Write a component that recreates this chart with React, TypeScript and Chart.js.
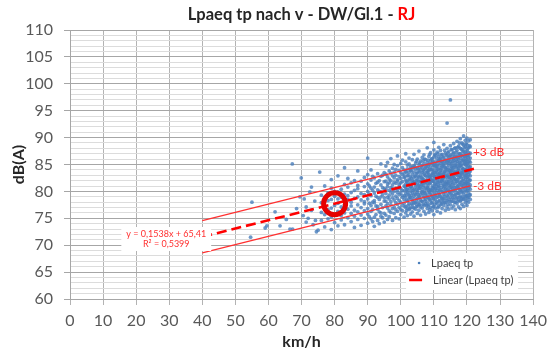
import React, { useEffect, useRef } from "react";
import { Chart, registerables } from "chart.js";

Chart.register(...registerables);

// ---------- texts ----------
const titleMain = "Lpaeq tp nach v - DW/Gl.1 - ";
const titleAccent = "RJ";
const xTitle = "km/h";
const yTitle = "dB(A)";
const seriesName = "Lpaeq tp";
const trendName = "Linear (Lpaeq tp)";
const equationLines = ["y = 0,1538x + 65,41", "R² = 0,5399"];
const upperLabel = "+3 dB";
const lowerLabel = "-3 dB";

// ---------- axes ----------
const xMin = 0;
const xMax = 140;
const xStep = 10;
const yMin = 60;
const yMax = 110;
const yMajorStep = 5;

// ---------- scatter: isolated points (km/h, dB(A)) ----------
const sparseSpeeds = [54.6, 55, 59, 59.5, 62, 63.5, 65.4, 66.5, 67.3, 67.2, 68.5, 69.5, 69.9, 70.5, 70.8, 71.4, 71.4, 72, 72.5, 73, 73, 73.5, 74, 74.2, 74.5, 75, 75.5];
const sparseLevels = [71.5, 78.0, 73.2, 73.6, 76.2, 73.6, 74.8, 73.0, 73.0, 85.1, 76.8, 79.0, 82.5, 75.5, 78.6, 77.1, 74.3, 75.0, 79.9, 76.5, 80.8, 73.8, 78.2, 74.6, 72.5, 72.8, 83.6];

// ---------- scatter: dense part, levels per speed ----------
const columnSpeeds = [
  76, 77, 78, 79, 80, 81, 82, 83, 84, 85, 86, 87, 88, 89, 90,
  90.5, 91, 91.5, 92, 92.5, 93, 93.5, 94, 94.5, 95,
  95.5, 96, 96.5, 97, 97.5, 98, 98.5, 99, 99.5, 100,
  100.5, 101, 101.5, 102, 102.5, 103, 103.5, 104, 104.5, 105,
  105.5, 106, 106.5, 107, 107.5, 108, 108.5, 109, 109.5, 110,
  110.5, 111, 111.5, 112, 112.5, 113, 113.5, 114, 114.5, 115,
  115.5, 116, 116.5, 117, 117.5, 118, 118.5, 119, 119.5, 120,
  120.5, 121,
];
const columnLevels = [
  [74.6, 76.1, 77.9, 79.3],
  [73.4, 75.7, 77.2, 78.8, 81.0],
  [74.9, 76.6, 78.3, 79.7],
  [72.9, 75.3, 76.9, 78.5, 80.6, 82.2],
  [74.2, 75.8, 77.4, 79.1, 80.0],
  [73.6, 76.3, 77.8, 78.6, 79.9, 82.9],
  [74.7, 75.5, 77.1, 78.9, 80.4],
  [73.8, 76.0, 77.6, 78.2, 79.5, 81.3, 84.4],
  [75.1, 76.7, 78.5, 79.2, 80.8, 82.4],
  [74.4, 75.9, 77.3, 78.0, 79.8, 81.6],
  [73.3, 75.4, 76.5, 78.7, 80.2, 82.0],
  [74.8, 76.2, 77.5, 79.0, 80.5, 81.1, 83.8],
  [73.7, 75.6, 77.0, 78.4, 79.6, 81.9],
  [75.0, 76.4, 77.7, 78.1, 79.4, 80.9, 82.6],
  [74.1, 75.8, 76.8, 78.6, 80.0, 81.4, 83.1, 86.2],
  [75.3, 77.8, 79.5, 81.0],
  [74.9, 76.3, 77.4, 79.2, 80.6, 82.1, 84.0],
  [74.4, 76.6, 78.0, 80.2, 82.8],
  [73.5, 75.2, 77.9, 78.3, 79.7, 80.8, 82.5],
  [75.7, 77.3, 79.1, 81.5],
  [74.6, 76.7, 77.2, 78.9, 80.3, 81.7, 83.3],
  [74.0, 76.2, 78.5, 80.0, 82.0],
  [75.4, 76.0, 77.6, 79.0, 79.9, 81.2, 82.8, 85.1],
  [75.1, 77.0, 79.4, 80.7, 83.0],
  [74.3, 75.9, 78.2, 78.8, 80.5, 81.8, 83.5],
  [75.6, 77.3, 78.2, 79.6, 80.4, 81.9, 83.2, 84.7],
  [74.8, 76.9, 77.7, 78.9, 80.9, 81.4, 82.7, 85.4],
  [75.3, 76.4, 78.6, 79.3, 80.2, 81.6, 82.3, 83.8],
  [76.1, 77.5, 78.1, 79.9, 80.7, 82.0, 83.4, 86.1],
  [74.6, 76.8, 78.8, 79.5, 80.5, 81.2, 82.9, 84.3],
  [75.9, 77.1, 78.4, 80.0, 81.7, 82.5, 83.6, 85.0],
  [75.1, 76.6, 77.9, 79.1, 80.6, 81.5, 83.0, 84.1],
  [76.3, 77.6, 78.7, 79.8, 80.3, 81.9, 82.2, 84.8, 86.6],
  [74.9, 77.0, 78.3, 79.4, 80.8, 81.3, 82.8, 83.9],
  [75.7, 76.7, 78.0, 79.7, 80.5, 81.6, 82.4, 83.5, 85.2],
  [76.4, 77.4, 78.9, 79.2, 80.2, 81.8, 83.1, 84.4, 85.8],
  [75.2, 77.8, 78.5, 80.1, 81.0, 82.6, 83.3, 84.0],
  [76.0, 77.2, 79.0, 79.6, 80.7, 81.4, 82.1, 83.7, 85.5, 87.0],
  [75.5, 76.8, 78.2, 79.9, 80.4, 81.7, 82.9, 84.2, 84.9],
  [76.6, 77.7, 78.6, 79.3, 81.1, 82.3, 83.5, 85.1, 86.2],
  [75.8, 77.0, 78.8, 80.0, 80.9, 81.5, 82.7, 83.9, 84.6],
  [76.2, 77.5, 78.3, 79.7, 80.6, 82.0, 83.2, 84.5, 85.9],
  [75.4, 76.9, 78.0, 79.1, 80.3, 81.8, 82.5, 83.6, 84.8, 86.9],
  [76.7, 77.9, 79.4, 80.8, 81.3, 82.8, 84.1, 85.3],
  [75.9, 77.3, 78.7, 79.8, 80.1, 81.6, 82.2, 83.4, 84.4, 86.0],
  [76.5, 77.6, 79.1, 80.5, 81.2, 82.6, 83.8, 85.0, 87.5],
  [75.6, 77.1, 78.4, 79.5, 80.9, 81.9, 83.0, 84.2, 85.6],
  [76.9, 78.1, 79.7, 80.3, 81.5, 82.4, 83.5, 84.8, 86.3],
  [76.3, 77.4, 78.9, 80.0, 81.1, 82.1, 83.3, 84.0, 85.2, 86.8],
  [75.8, 77.7, 78.5, 79.6, 80.6, 81.7, 82.9, 84.6, 85.9],
  [76.8, 78.0, 79.3, 80.7, 81.4, 82.5, 83.7, 84.3, 85.4, 88.1],
  [76.1, 77.5, 78.7, 79.9, 80.2, 81.8, 83.1, 83.9, 85.0, 86.5],
  [77.0, 78.3, 79.5, 80.4, 81.6, 82.3, 82.8, 84.5, 85.7, 87.2],
  [76.4, 77.9, 79.0, 80.1, 81.0, 82.0, 83.4, 84.1, 85.3, 86.1],
  [75.7, 77.2, 78.6, 79.7, 80.8, 81.9, 82.7, 83.8, 84.9, 86.4, 87.7, 89.1],
  [76.9, 78.4, 79.3, 80.5, 81.3, 82.4, 83.2, 84.4, 85.5, 86.7],
  [76.3, 77.7, 78.9, 80.2, 81.7, 82.1, 83.6, 84.7, 85.1, 87.3],
  [77.2, 78.2, 79.6, 80.9, 81.1, 82.6, 83.0, 84.2, 85.8, 86.5, 88.2],
  [76.0, 77.5, 79.1, 80.3, 81.5, 82.8, 83.5, 84.0, 85.3, 86.2, 87.6],
  [76.8, 78.0, 78.7, 80.0, 81.9, 82.3, 83.9, 84.6, 85.6, 86.9],
  [77.4, 78.6, 79.4, 80.6, 81.2, 82.5, 83.3, 84.8, 85.2, 86.4, 88.7],
  [76.5, 77.9, 79.8, 80.4, 81.6, 82.9, 83.7, 84.3, 85.9, 87.1],
  [77.1, 78.3, 79.2, 80.8, 81.4, 82.2, 83.1, 84.5, 85.4, 86.6, 88.0, 92.7],
  [76.7, 78.1, 79.5, 80.1, 81.8, 82.7, 83.6, 84.9, 85.7, 86.3, 87.4],
  [77.5, 78.8, 79.9, 80.7, 81.3, 82.4, 83.4, 84.2, 85.5, 86.8, 88.5, 97.0],
  [76.9, 78.2, 79.3, 80.5, 81.7, 82.6, 83.9, 84.7, 85.2, 86.5, 87.7],
  [77.3, 78.6, 80.0, 81.0, 82.1, 82.9, 83.3, 84.4, 85.8, 86.1, 87.2, 88.9],
  [76.6, 78.0, 79.4, 80.3, 81.5, 82.3, 83.7, 84.9, 85.4, 86.7, 88.1],
  [77.7, 78.9, 79.8, 80.9, 81.9, 83.0, 83.5, 84.6, 85.6, 86.4, 87.6, 89.3],
  [77.1, 78.4, 79.6, 80.6, 81.2, 82.5, 84.0, 84.3, 85.9, 86.9, 88.4],
  [76.8, 78.2, 79.1, 80.2, 81.6, 82.7, 83.3, 84.8, 85.3, 86.2, 87.0, 88.0, 89.8],
  [77.6, 78.7, 80.0, 81.1, 82.0, 83.2, 83.9, 84.5, 85.7, 86.6, 87.8, 89.0],
  [77.2, 78.5, 79.5, 80.8, 81.4, 82.4, 83.6, 84.2, 85.1, 86.0, 86.8, 87.5, 88.6, 90.3],
  [77.9, 79.0, 80.3, 81.3, 82.2, 82.9, 84.0, 85.0, 85.6, 86.4, 87.3, 88.3, 89.5],
  [77.4, 78.3, 79.2, 80.1, 81.0, 81.8, 82.6, 83.4, 84.3, 85.2, 85.9, 86.7, 87.6, 88.7, 89.9],
  [78.0, 78.9, 79.7, 80.6, 81.5, 82.3, 83.1, 83.9, 84.7, 85.5, 86.3, 87.2, 88.2, 89.4],
  [78.5, 79.4, 80.4, 81.2, 82.1, 82.9, 83.8, 84.6, 85.4, 86.2, 87.1, 88.3, 89.6],
];

// ---------- scatter: further measurements in the densest speed range ----------
const fillSpeeds = [
  101.25, 101.75, 102.25, 102.75, 103.25, 103.75, 104.25, 104.75, 105.25, 105.75, 106.25, 106.75, 107.25, 107.75,
  108.25, 108.75, 109.25, 109.75, 110.25, 110.75, 111.25, 111.75, 112.25, 112.75, 113.25, 113.75, 114.25, 114.75,
  115.25, 115.75, 116.25, 116.75, 117.25, 117.75, 118.25, 118.75, 119.25, 119.75, 120.25, 120.75,
];
const fillLevels = [
  [77.1, 79.2, 80.9, 82.7],
  [76.5, 78.4, 80.3, 81.9, 83.6],
  [77.4, 79.5, 81.2, 83.0],
  [76.8, 78.9, 80.5, 82.1, 84.1],
  [77.7, 79.3, 81.0, 82.5, 83.8],
  [77.0, 78.6, 80.2, 81.6, 84.4],
  [77.8, 79.6, 81.5, 82.9, 84.6],
  [77.2, 78.5, 80.4, 82.0, 83.4, 85.6],
  [78.0, 79.4, 81.0, 82.8, 84.2],
  [77.5, 78.9, 80.6, 81.9, 83.6, 85.3],
  [78.2, 79.9, 81.3, 82.6, 84.5],
  [77.6, 79.2, 80.8, 82.3, 83.9, 85.7],
  [78.3, 79.7, 81.6, 83.0, 84.3, 86.0],
  [77.4, 79.0, 80.4, 82.0, 83.5, 84.9],
  [77.3, 78.9, 80.6, 81.1, 82.9, 83.5, 84.7, 85.8],
  [76.6, 78.5, 79.8, 81.5, 82.7, 84.1, 85.1, 86.9],
  [77.8, 79.2, 80.3, 82.2, 83.0, 84.0, 86.0],
  [77.1, 78.7, 80.7, 81.9, 83.3, 84.8, 85.6],
  [77.6, 79.1, 80.4, 81.4, 82.8, 83.5, 85.0, 86.9],
  [78.0, 79.8, 81.0, 82.5, 83.8, 84.6, 86.2],
  [77.0, 79.0, 80.6, 81.6, 83.1, 84.1, 85.6, 87.0],
  [78.3, 79.4, 80.1, 82.0, 83.4, 84.9, 86.0],
  [77.7, 78.8, 80.7, 81.9, 82.9, 84.4, 85.6, 86.8],
  [78.4, 79.9, 81.2, 82.4, 83.2, 85.0, 86.3],
  [77.9, 79.1, 80.9, 81.8, 83.6, 84.5, 85.7, 87.6],
  [78.6, 80.1, 81.3, 82.7, 84.0, 85.3, 86.8],
  [77.6, 79.0, 80.4, 81.7, 82.9, 84.1, 85.8, 87.2],
  [78.5, 79.9, 81.1, 82.6, 83.9, 85.2, 86.6],
  [78.1, 79.5, 80.8, 82.0, 83.7, 84.6, 86.0, 87.8],
  [78.8, 80.2, 81.4, 82.8, 84.2, 85.5, 87.0],
  [78.0, 79.3, 80.7, 82.4, 83.6, 84.8, 86.4, 88.0],
  [78.7, 80.5, 81.8, 83.1, 84.4, 85.9, 87.3],
  [78.2, 79.6, 81.0, 82.2, 83.8, 85.1, 86.3, 88.2],
  [78.9, 80.4, 81.7, 83.0, 84.7, 85.4, 87.0, 89.0],
  [78.4, 79.8, 81.2, 82.6, 83.5, 84.9, 86.6, 87.9],
  [79.0, 80.5, 81.9, 83.4, 84.2, 85.8, 87.4, 88.8],
  [78.6, 79.9, 81.5, 82.9, 84.0, 85.4, 86.5, 88.1],
  [79.2, 80.7, 81.7, 83.3, 84.8, 85.8, 87.0, 88.9],
  [78.8, 80.2, 81.4, 82.7, 83.9, 85.1, 86.6, 87.9],
  [79.3, 80.9, 82.0, 83.5, 84.4, 85.7, 86.9, 88.5],
];

// ---------- trend line and ±3 dB band ----------
const trendSpeeds = [40, 123];
const trendLevels = [71.56, 84.33];
const bandSpeeds = [40, 121];
const upperLevels = [74.56, 87.02];
const lowerLevels = [68.56, 81.02];

// ---------- highlighted point ----------
const markerSpeeds = [80];
const markerLevels = [77.71];

// ---------- label anchors (data coordinates) ----------
const equationAnchor = { x: 29.1, y: 71.15 };
const bandLabelSpeed = 121.8;
const upperLabelLevel = 87.3;
const lowerLabelLevel = 80.9;

const FONT = "Lato, 'Open Sans', 'Liberation Sans', sans-serif";
const BLUE = "rgba(74,126,187,0.8)";
const RED = "#ff0000";

const toXY = (xs: number[], ys: number[]) => xs.map((x, i) => ({ x, y: ys[i] }));
const fromColumns = (xs: number[], cols: number[][]) =>
  xs.flatMap((s, i) => cols[i].map((y) => ({ x: s, y })));

const scatterPoints = [
  ...toXY(sparseSpeeds, sparseLevels),
  ...fromColumns(columnSpeeds, columnLevels),
  ...fromColumns(fillSpeeds, fillLevels),
];

const overlayPlugin = {
  id: "overlay",
  afterDatasetsDraw(chart: any) {
    const { ctx, scales } = chart;
    const xs = scales.x;
    const ys = scales.y;
    ctx.save();
    // ±3 dB labels
    ctx.font = `12px ${FONT}`;
    ctx.fillStyle = "#ff2a2a";
    ctx.textAlign = "left";
    ctx.textBaseline = "middle";
    ctx.fillText(upperLabel, xs.getPixelForValue(bandLabelSpeed), ys.getPixelForValue(upperLabelLevel));
    ctx.fillText(lowerLabel, xs.getPixelForValue(bandLabelSpeed), ys.getPixelForValue(lowerLabelLevel));

    // equation box
    ctx.font = `9px ${FONT}`;
    const cx = xs.getPixelForValue(equationAnchor.x);
    const cy = ys.getPixelForValue(equationAnchor.y);
    const lh = 10;
    const w = Math.max(...equationLines.map((t) => ctx.measureText(t).width)) + 10;
    const h = lh * equationLines.length + 4;
    ctx.fillStyle = "#ffffff";
    ctx.fillRect(cx - w / 2, cy - h / 2, w, h);
    ctx.fillStyle = "#ff3030";
    ctx.textAlign = "center";
    equationLines.forEach((t, i) => {
      ctx.fillText(t, cx, cy - ((equationLines.length - 1) * lh) / 2 + i * lh);
    });
    ctx.restore();
  },
  afterDraw(chart: any) {
    const { ctx, chartArea } = chart;
    ctx.save();
    // title (two colours)
    ctx.font = `bold 16.5px ${FONT}`;
    ctx.textBaseline = "middle";
    ctx.textAlign = "left";
    const w1 = ctx.measureText(titleMain).width;
    const w2 = ctx.measureText(titleAccent).width;
    const tx = (chartArea.left + chartArea.right) / 2 - (w1 + w2) / 2;
    const ty = 15;
    ctx.fillStyle = "#262626";
    ctx.fillText(titleMain, tx, ty);
    ctx.fillStyle = RED;
    ctx.fillText(titleAccent, tx + w1, ty);

    // legend
    const lx = chartArea.right - 127;
    const ly = chartArea.bottom - 46;
    ctx.fillStyle = "#ffffff";
    ctx.fillRect(lx, ly, 112, 37);
    ctx.font = `11px ${FONT}`;
    ctx.fillStyle = "#404040";
    ctx.fillText(seriesName, lx + 25, ly + 10);
    ctx.fillText(trendName, lx + 27, ly + 27);
    ctx.fillStyle = "rgba(74,126,187,1)";
    ctx.beginPath();
    ctx.arc(lx + 13, ly + 10, 1.3, 0, Math.PI * 2);
    ctx.fill();
    ctx.strokeStyle = RED;
    ctx.lineWidth = 2.5;
    ctx.beginPath();
    ctx.moveTo(lx + 3, ly + 27);
    ctx.lineTo(lx + 16, ly + 27);
    ctx.stroke();
    ctx.restore();
  },
};

export default function App() {
  const ref = useRef<HTMLCanvasElement | null>(null);

  useEffect(() => {
    document.body.style.margin = "0";
    const canvas = ref.current;
    if (!canvas) return;
    const isMajorY = (v: number) => Math.abs(v % yMajorStep) < 1e-6;
    const chart = new Chart(canvas, {
      type: "scatter",
      data: {
        datasets: [
          {
            label: "marker",
            data: toXY(markerSpeeds, markerLevels),
            pointRadius: 11,
            pointBorderWidth: 5,
            pointBorderColor: "#e50000",
            pointBackgroundColor: "rgba(0,0,0,0)",
            showLine: false,
            order: 0,
          },
          {
            label: trendName,
            data: toXY(trendSpeeds, trendLevels),
            showLine: true,
            borderColor: RED,
            borderWidth: 2.6,
            borderDash: [10, 5],
            pointRadius: 0,
            order: 1,
          },
          {
            label: upperLabel,
            data: toXY(bandSpeeds, upperLevels),
            showLine: true,
            borderColor: "#ff3030",
            borderWidth: 1.3,
            pointRadius: 0,
            order: 2,
          },
          {
            label: lowerLabel,
            data: toXY(bandSpeeds, lowerLevels),
            showLine: true,
            borderColor: "#ff3030",
            borderWidth: 1.3,
            pointRadius: 0,
            order: 2,
          },
          {
            label: seriesName,
            data: scatterPoints,
            pointRadius: 1.9,
            pointBorderWidth: 0,
            pointBackgroundColor: BLUE,
            showLine: false,
            order: 3,
          },
        ],
      },
      options: {
        responsive: false,
        animation: false,
        layout: { padding: { top: 30, right: 16, left: 0, bottom: 0 } },
        plugins: {
          legend: { display: false },
          title: { display: false },
          tooltip: { enabled: false },
        },
        scales: {
          x: {
            type: "linear",
            min: xMin,
            max: xMax,
            afterFit: (s: any) => {
              s.height = 51;
            },
            ticks: {
              stepSize: xStep,
              autoSkip: false,
              maxRotation: 0,
              padding: 6,
              color: "#595959",
              font: { size: 16, family: FONT },
            },
            grid: { color: "#b3b3b3", tickColor: "#b3b3b3", tickLength: 6, lineWidth: 1 },
            border: { color: "#a6a6a6" },
            title: {
              display: true,
              text: xTitle,
              color: "#262626",
              font: { size: 16, weight: "bold", family: FONT, lineHeight: 1 },
              padding: { top: 0, bottom: 0 },
            },
          },
          y: {
            type: "linear",
            min: yMin,
            max: yMax,
            afterFit: (s: any) => {
              s.width = 70;
            },
            ticks: {
              stepSize: 1,
              autoSkip: false,
              maxTicksLimit: 200,
              padding: 11,
              color: "#595959",
              font: { size: 16, family: FONT },
              callback: (v: any) => (isMajorY(Number(v)) ? String(v) : ""),
            },
            grid: {
              color: (c: any) => (isMajorY(c.tick.value) ? "#a6a6a6" : "#dcdcdc"),
              tickColor: (c: any) => (isMajorY(c.tick.value) ? "#a6a6a6" : "rgba(0,0,0,0)"),
              tickLength: 6,
              lineWidth: 1,
            },
            border: { color: "#a6a6a6" },
            title: {
              display: true,
              text: yTitle,
              color: "#262626",
              font: { size: 16, weight: "bold", family: FONT, lineHeight: 1 },
              padding: { top: 11, bottom: 0 },
            },
          },
        },
      },
      plugins: [overlayPlugin],
    } as any);
    return () => chart.destroy();
  }, []);

  return (
    <div style={{ position: "relative", width: 553, height: 350 }}>
      <canvas ref={ref} width={553} height={350} style={{ display: "block", width: 553, height: 350 }} />
    </div>
  );
}
